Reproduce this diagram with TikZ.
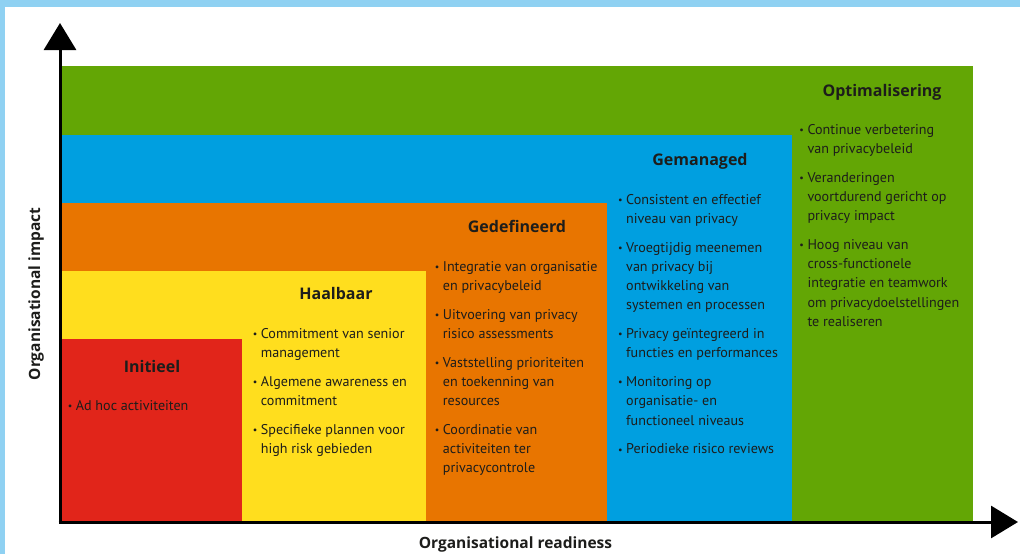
\documentclass[tikz,border=0pt]{standalone}
\usepackage{fontspec}
\setmainfont{PT Sans}
\newfontfamily\headfont{Open Sans}
\usetikzlibrary{arrows.meta}
\definecolor{cgreen}{HTML}{63A605}
\definecolor{cblue}{HTML}{009FE0}
\definecolor{corange}{HTML}{E87500}
\definecolor{cyellow}{HTML}{FFDE1E}
\definecolor{cred}{HTML}{E1251A}
\definecolor{cframe}{HTML}{8FD1F2}
\definecolor{ctext}{HTML}{1D1D1B}
\newcommand\bul{\llap{\raisebox{0.9pt}{\fontsize{10}{10}\selectfont\textbullet}\hspace{3.6pt}}}
\newcommand\gap{\\[9.4pt]}
\tikzset{
  stagetitle/.style={font=\headfont\bfseries\fontsize{16}{19}\selectfont, text=ctext, inner sep=0pt, anchor=base},
  stagebody/.style={font=\fontsize{14.1}{19.3}\selectfont, text=ctext, inner sep=0pt, anchor=base west},
  axislabel/.style={font=\headfont\bfseries\fontsize{15.5}{18}\selectfont, text=ctext, inner sep=0pt},
  axisline/.style={line width=3pt, -{Triangle[length=27pt,width=32pt]}}
}
\begin{document}
\begin{tikzpicture}[x=1pt,y=-1pt]
\useasboundingbox (0,0) rectangle (1020,554);
\fill[white] (0,0) rectangle (1020,554);
\fill[cframe] (0,0) rectangle (1020,7);
\fill[cframe] (0,0) rectangle (5,554);
% stage areas
\fill[cgreen] (60,66) rectangle (972.5,522);
\fill[cblue] (60,135) rectangle (791.5,522);
\fill[corange] (60,203) rectangle (607,522);
\fill[cyellow] (60,271) rectangle (426,522);
\fill[cred] (60,339) rectangle (242,522);
% axes
\coordinate (O) at (60,523.5);
\coordinate (Ox) at (58.5,522);
\coordinate (ytop) at (60,23);
\coordinate (xend) at (1018,522);
\draw[axisline] (O) -- (ytop);
\draw[axisline] (Ox) -- (xend);
\node[axislabel, rotate=90] (ylab) at (36,294) {Organisational impact};
\node[axislabel, anchor=base] (xlab) at (515.5,548) {Organisational readiness};
% titles
\node[stagetitle] (t1) at (152,372) {Initieel};
\node[stagetitle] (t2) at (336,299) {Haalbaar};
\node[stagetitle] (t3) at (517,232) {Gedefineerd};
\node[stagetitle] (t4) at (700,165) {Gemanaged};
\node[stagetitle] (t5) at (882,96) {Optimalisering};
% bodies
\node[stagebody] (b1) at (75.7,410) {\begin{tabular}[t]{@{}l@{}}
\bul Ad hoc activiteiten
\end{tabular}};
\node[stagebody] (b2) at (260.7,338) {\begin{tabular}[t]{@{}l@{}}
\bul Commitment van senior\\ management\gap
\bul Algemene awareness en\\ commitment\gap
\bul Specifieke plannen voor\\ high risk gebieden
\end{tabular}};
\node[stagebody] (b3) at (442.7,271) {\begin{tabular}[t]{@{}l@{}}
\bul Integratie van organisatie\\ en privacybeleid\gap
\bul Uitvoering van privacy\\ risico assessments\gap
\bul Vaststelling prioriteiten\\ en toekenning van\\ resources\gap
\bul Coordinatie van\\ activiteiten ter\\ privacycontrole
\end{tabular}};
\node[stagebody] (b4) at (626,204) {\begin{tabular}[t]{@{}l@{}}
\bul Consistent en effectief\\ niveau van privacy\gap
\bul Vroegtijdig meenemen\\ van privacy bij\\ ontwikkeling van\\ systemen en processen\gap
\bul Privacy geïntegreerd in\\ functies en performances\gap
\bul Monitoring op\\ organisatie- en\\ functioneel niveaus\gap
\bul Periodieke risico reviews
\end{tabular}};
\node[stagebody] (b5) at (807.3,134) {\begin{tabular}[t]{@{}l@{}}
\bul Continue verbetering\\ van privacybeleid\gap
\bul Veranderingen\\ voortdurend gericht op\\ privacy impact\gap
\bul Hoog niveau van\\ cross-functionele\\ integratie en teamwork\\ om privacydoelstellingen\\ te realiseren
\end{tabular}};
\end{tikzpicture}
\end{document}
